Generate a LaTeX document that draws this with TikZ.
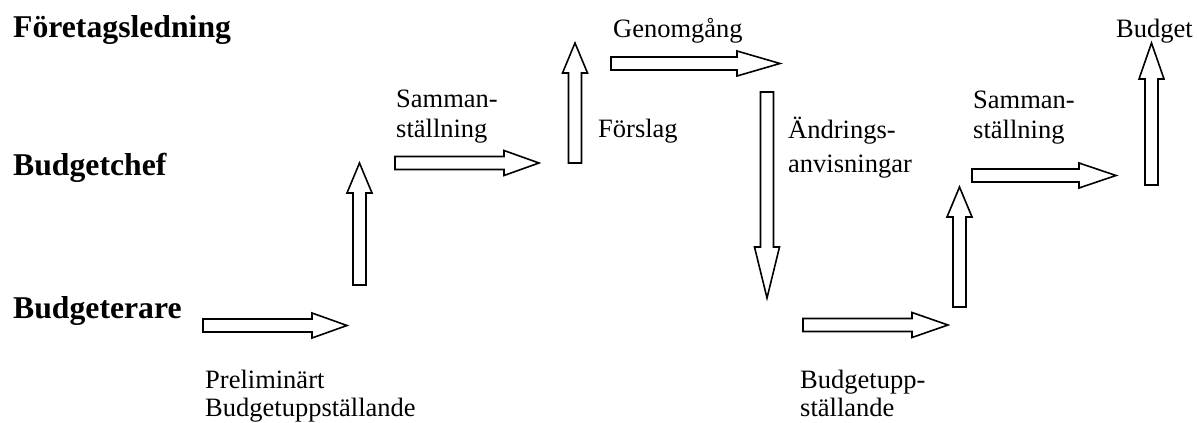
\documentclass[tikz,border=0pt]{standalone}
\usepackage{fontspec}
\setmainfont{Liberation Serif}
\begin{document}
\begin{tikzpicture}[x=1pt,y=1pt,
  arrowline/.style={draw=black,line width=1.6pt,fill=white,line join=miter},
  lbl/.style={inner sep=0pt,anchor=base west,font=\fontsize{26.5}{30}\selectfont},
  role/.style={inner sep=0pt,anchor=base west,font=\fontsize{31.7}{36}\selectfont\bfseries},
  pics/barrow/.style args={#1/#2}{code={
    \draw[arrowline] (0,-6.5) -- ({#1-#2},-6.5) -- ({#1-#2},-12.5) -- (#1,0)
      -- ({#1-#2},12.5) -- ({#1-#2},6.5) -- (0,6.5) -- cycle;}}]
\useasboundingbox (0,0) rectangle (1197,-423);

% levels of the organisation
\node[role] (ledning) at (13,-37) {Företagsledning};
\node[role] (chef) at (13,-175) {Budgetchef};
\node[role] (budgeterare) at (13,-318) {Budgeterare};

% block arrows: tail point, length / head length
\pic at (203,-325.5) {barrow={144/35}};
\pic[rotate=90] at (359.5,-285) {barrow={122/30}};
\pic at (395,-163) {barrow={144/35}};
\pic[rotate=90] at (575,-163) {barrow={120/30}};
\pic at (611,-63.5) {barrow={169/43}};
\pic[rotate=-90] at (767,-92) {barrow={206/51}};
\pic at (803,-325) {barrow={145/36}};
\pic[rotate=90] at (959.5,-307) {barrow={120/30}};
\pic at (972,-175.5) {barrow={144/37}};
\pic[rotate=90] at (1151.5,-185) {barrow={142/36}};

% step labels
\node[lbl] (prel1) at (205,-388) {Preliminärt};
\node[lbl] (prel2) at (205,-416) {Budgetuppställande};
\node[lbl] (samA1) at (396,-107) {Samman-};
\node[lbl] (samA2) at (396,-137) {ställning};
\node[lbl] (forslag) at (598,-137) {Förslag};
\node[lbl] (genomgang) at (613,-37) {Genomgång};
\node[lbl] (andr1) at (788,-138) {Ändrings-};
\node[lbl] (andr2) at (788,-172) {anvisningar};
\node[lbl] (bu1) at (800,-388) {Budgetupp-};
\node[lbl] (bu2) at (800,-416) {ställande};
\node[lbl] (samB1) at (973,-108) {Samman-};
\node[lbl] (samB2) at (973,-138) {ställning};
\node[lbl] (budget) at (1116,-37) {Budget};
\end{tikzpicture}
\end{document}
